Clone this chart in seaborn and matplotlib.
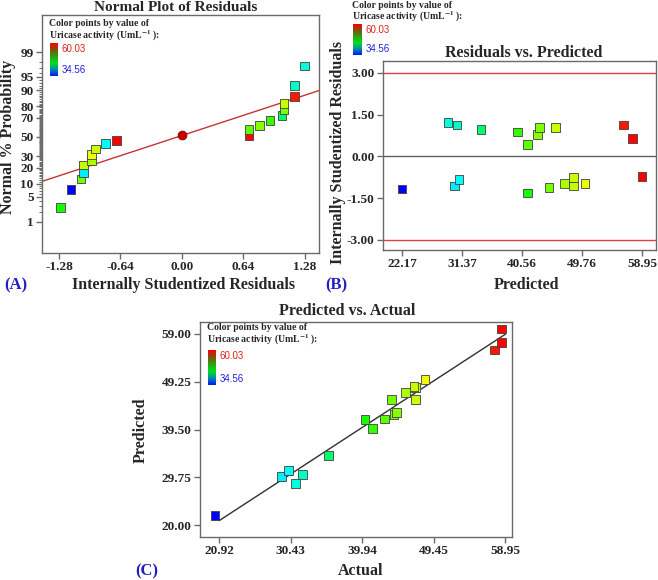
import statistics
import numpy as np
import pandas as pd
import seaborn as sns
import matplotlib.pyplot as plt
from matplotlib.colors import LinearSegmentedColormap

# ------------------------------------------------------------------
# Data
# ------------------------------------------------------------------
# (A) normal plot: internally studentized residuals vs normal % probability
normal_res = [-1.266, -1.155, -1.051, -1.024, -1.024, -0.944, -0.944, -0.899, -0.795, -0.684,
              0.701, 0.701, 0.809, 0.920, 1.044, 1.065, 1.065, 1.173, 1.173, 1.280]
normal_pct = [2.7, 7.4, 12.5, 16.5, 22.0, 26.0, 31.3, 37.0, 43.1, 46.3,
              51.8, 58.0, 61.9, 67.4, 72.2, 76.9, 82.1, 86.7, 91.9, 97.4]
normal_act = [40.29, 20.35, 43.83, 29.19, 46.80, 45.68, 48.25, 46.97, 30.16, 58.46,
              58.46, 42.85, 44.45, 41.26, 35.47, 44.14, 46.97, 57.53, 31.97, 31.09]
center_res = [0.0]
center_pct = [51.8]
fit_res = [-1.46, 1.43]
fit_pct = [11.1, 89.8]

# (B) residuals vs predicted
pred_b = [22.17, 29.22, 30.60, 30.24, 30.90, 34.28, 39.84, 41.43, 42.91, 43.21,
          45.67, 41.43, 44.70, 47.10, 48.48, 48.48, 50.21, 56.14, 57.47, 58.95]
res_b = [-1.17, 1.23, 1.13, -1.06, -0.82, 0.98, 0.88, 0.44, 0.80, 1.04,
         1.04, -1.31, -1.12, -0.96, -0.75, -1.06, -0.96, 1.13, 0.64, -0.71]
act_b = [20.35, 31.09, 31.97, 29.19, 30.16, 35.47, 41.26, 42.85, 44.45, 44.14,
         46.97, 40.29, 43.83, 45.68, 46.97, 46.80, 48.25, 57.53, 58.46, 58.46]
res_limits = [-3.0, 3.0]

# (C) predicted vs actual
actual_c = [20.35, 29.19, 30.16, 31.09, 31.97, 35.47, 40.29, 41.26, 42.85, 43.83,
            44.14, 44.45, 45.68, 46.97, 46.97, 46.80, 48.25, 57.53, 58.46, 58.46]
pred_c = [21.90, 29.90, 31.12, 28.48, 30.24, 34.17, 41.50, 39.74, 41.64, 45.57,
          42.59, 42.92, 47.00, 45.57, 48.08, 48.30, 49.71, 55.74, 57.30, 60.02]
diag = [20.92, 58.95]

legend_max, legend_min = "60.03", "34.56"
pct_ticks = [1, 5, 10, 20, 30, 50, 70, 80, 90, 95, 99]
a_xticks = [-1.28, -0.64, 0.00, 0.64, 1.28]
b_xticks = [22.17, 31.37, 40.56, 49.76, 58.95]
b_yticks = [-3.00, -1.50, 0.00, 1.50, 3.00]
c_xticks = [20.92, 30.43, 39.94, 49.45, 58.95]
c_yticks = [20.00, 29.75, 39.50, 49.25, 59.00]

# ------------------------------------------------------------------
# Style
# ------------------------------------------------------------------
sns.set_theme(style="white")
plt.rcParams["font.family"] = ["Liberation Serif", "DejaVu Serif"]
plt.rcParams["mathtext.fontset"] = "stix"

W, H = 658, 580
fig = plt.figure(figsize=(W / 100, H / 100), dpi=100)

point_cmap = LinearSegmentedColormap.from_list(
    "pts", ["#0000ff", "#00ffff", "#00ff00", "#ffff00", "#ff0000"])
bar_cmap = LinearSegmentedColormap.from_list(
    "bar", ["#0018ff", "#0090a0", "#00e020", "#30a010", "#805010", "#ff0000"])
hue_norm = (min(actual_c), max(actual_c))
z = statistics.NormalDist().inv_cdf
edge = "#6a6a6a"


def px_axes(l, t, r, b):
    return fig.add_axes([l / W, 1 - b / H, (r - l) / W, (b - t) / H])


def ftext(x, y, s, **kw):
    fig.text(x / W, 1 - y / H, s, **kw)


def style_ax(ax):
    for sp in ax.spines.values():
        sp.set_color(edge)
        sp.set_linewidth(1.0)
    ax.tick_params(direction="out", length=4, width=1, color=edge,
                   labelsize=9.5, pad=2, bottom=True, left=True)


def color_legend(x, y_text, bar):
    ftext(x, y_text, "Color points by value of", fontsize=7, fontweight="bold",
          ha="left", va="center")
    ftext(x, y_text + 12, "Uricase activity (UmL$^{\\mathbf{-1}}$ ):", fontsize=7,
          fontweight="bold", ha="left", va="center")
    l, t, r, b = bar
    cax = px_axes(l, t, r, b)
    cax.imshow(np.linspace(1, 0, 100)[:, None], aspect="auto", cmap=bar_cmap)
    cax.axis("off")
    ftext(r + 4, t + 6, legend_max, fontsize=7, color="#e02020",
          family="Liberation Sans", ha="left", va="center")
    ftext(r + 4, b - 6, legend_min, fontsize=7, color="#2020e0",
          family="Liberation Sans", ha="left", va="center")


def squares(ax, x, y, hue):
    df = pd.DataFrame({"x": x, "y": y, "act": hue})
    sns.scatterplot(data=df, x="x", y="y", hue="act", palette=point_cmap,
                    hue_norm=hue_norm, marker="s", s=40, edgecolor="#404040",
                    linewidth=0.6, legend=False, ax=ax, zorder=3)
    ax.set_xlabel("")
    ax.set_ylabel("")


# ------------------------------------------------------------------
# (A) Normal plot of residuals
# ------------------------------------------------------------------
ax_a = px_axes(42, 15, 319, 253)
style_ax(ax_a)
ax_a.plot(fit_res, [z(p / 100) for p in fit_pct], color="#c83232", lw=1.0, zorder=2)
squares(ax_a, normal_res, [z(p / 100) for p in normal_pct], normal_act)
ax_a.scatter(center_res, [z(p / 100) for p in center_pct], s=40, marker="o",
             color="#c80000", edgecolor="#800000", linewidth=0.6, zorder=3)
ax_a.set_xlim(-1.457, 1.43)
ax_a.set_ylim(-3.18, 3.34)
ax_a.set_xticks(a_xticks, [f"{v:.2f}" for v in a_xticks], fontweight="bold")
ax_a.set_yticks([z(p / 100) for p in pct_ticks], [str(p) for p in pct_ticks],
                fontweight="bold")
ax_a.set_yticks([z(p / 100) for p in range(1, 100) if p not in pct_ticks], minor=True)
ax_a.tick_params(axis="y", which="minor", direction="out", length=2.5, width=0.7,
                 color=edge, left=True)
color_legend(49, 24, (50, 43, 58, 76))
ftext(176, 1, "Normal Plot of Residuals", fontsize=11, fontweight="bold",
      ha="center", va="top")
ftext(184, 285, "Internally Studentized Residuals", fontsize=11.5, fontweight="bold",
      ha="center", va="center")
ftext(8, 137, "Normal % Probability", fontsize=11.5, fontweight="bold",
      ha="center", va="center", rotation=90)
ftext(16, 285, "(A)", fontsize=12, fontweight="bold", color="#2020c0",
      ha="center", va="center")

# ------------------------------------------------------------------
# (B) Residuals vs predicted
# ------------------------------------------------------------------
ax_b = px_axes(383, 61, 656, 250)
style_ax(ax_b)
for lim in res_limits:
    ax_b.axhline(lim, color="#e04040", lw=1.0, zorder=1)
ax_b.axhline(0, color="#606060", lw=1.0, zorder=1)
squares(ax_b, pred_b, res_b, act_b)
ax_b.set_xlim(19.26, 61.09)
ax_b.set_ylim(-3.36, 3.43)
ax_b.set_xticks(b_xticks, [f"{v:.2f}" for v in b_xticks], fontweight="bold")
ax_b.set_yticks(b_yticks, [f"{v:.2f}" for v in b_yticks], fontweight="bold")
color_legend(352, 5, (353, 24, 362, 55))
ftext(524, 53, "Residuals vs. Predicted", fontsize=11.5, fontweight="bold",
      ha="center", va="center")
ftext(526, 285, "Predicted", fontsize=11.5, fontweight="bold", ha="center", va="center")
ftext(338, 153, "Internally Studentized Residuals", fontsize=11.5, fontweight="bold",
      ha="center", va="center", rotation=90)
ftext(336, 285, "(B)", fontsize=12, fontweight="bold", color="#2020c0",
      ha="center", va="center")

# ------------------------------------------------------------------
# (C) Predicted vs actual
# ------------------------------------------------------------------
ax_c = px_axes(200, 322, 512, 537)
style_ax(ax_c)
ax_c.plot(diag, diag, color="#303030", lw=1.0, zorder=2)
squares(ax_c, actual_c, pred_c, actual_c)
ax_c.set_xlim(18.35, 59.83)
ax_c.set_ylim(17.56, 61.44)
ax_c.set_xticks(c_xticks, [f"{v:.2f}" for v in c_xticks], fontweight="bold")
ax_c.set_yticks(c_yticks, [f"{v:.2f}" for v in c_yticks], fontweight="bold")
color_legend(207, 328, (208, 350, 216, 385))
ftext(347, 311, "Predicted vs. Actual", fontsize=11.5, fontweight="bold",
      ha="center", va="center")
ftext(361, 579, "Actual", fontsize=11.5, fontweight="bold", ha="center", va="bottom")
ftext(141, 430, "Predicted", fontsize=11.5, fontweight="bold", ha="center",
      va="center", rotation=90)
ftext(147, 571, "(C)", fontsize=12, fontweight="bold", color="#2020c0",
      ha="center", va="center")

fig.savefig("out.png", dpi=100)
